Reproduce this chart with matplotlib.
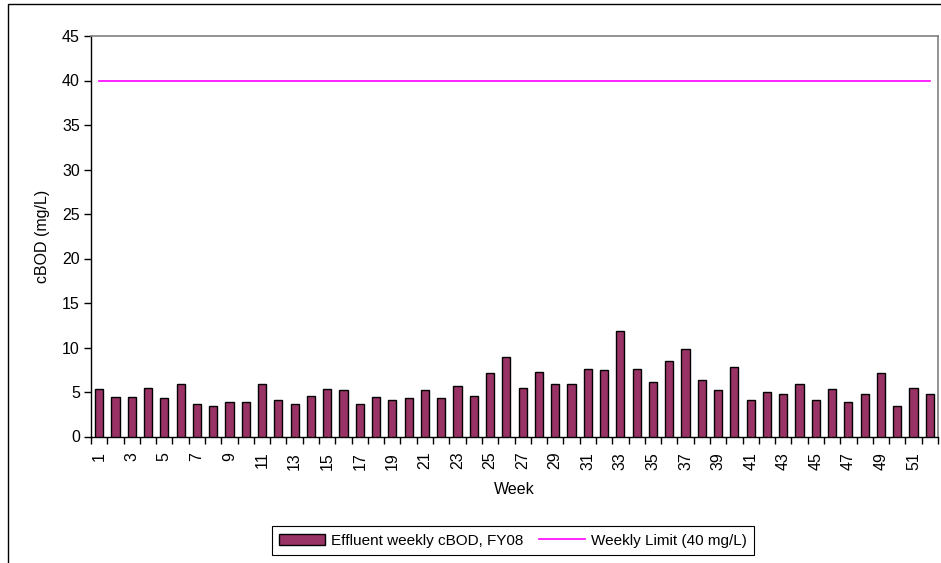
import matplotlib
matplotlib.use("Agg")
import matplotlib.pyplot as plt
from matplotlib.patches import Rectangle
import numpy as np

plt.rcParams['font.family'] = ['Liberation Sans', 'DejaVu Sans']

weeks = list(range(1, 53))
cbod = [5.3, 4.4, 4.4, 5.5, 4.3, 5.9, 3.6, 3.4, 3.9, 3.9,
        5.9, 4.1, 3.7, 4.6, 5.3, 5.2, 3.7, 4.4, 4.1, 4.3,
        5.2, 4.3, 5.7, 4.6, 7.1, 8.9, 5.5, 7.3, 5.9, 5.9,
        7.6, 7.5, 11.9, 7.6, 6.1, 8.5, 9.8, 6.3, 5.2, 7.8,
        4.1, 5.0, 4.8, 5.9, 4.1, 5.3, 3.9, 4.8, 7.1, 3.4,
        5.5, 4.8]
limit = 40
tick_labels = [str(w) if w % 2 == 1 else "" for w in weeks]
yticks = list(range(0, 50, 5))

W, H = 941, 563
fig = plt.figure(figsize=(W / 100, H / 100), dpi=100)
ax = fig.add_axes([91 / W, 1 - 436.5 / H, (938 - 91) / W, (436.5 - 36) / H])

bars = ax.bar(weeks, cbod, width=0.5, color='#993366', edgecolor='black', linewidth=1.0,
              label='Effluent weekly cBOD, FY08', zorder=3)
line, = ax.plot([weeks[0], weeks[-1]], [limit, limit], color='#FF00FF', linewidth=1.2,
                label='Weekly Limit (40 mg/L)', zorder=3)

ax.set_xlim(0.5, 52.5)
ax.set_ylim(0, 45)
ax.set_yticks(yticks)
ax.set_yticklabels([str(v) for v in yticks], fontsize=11.5)
ax.set_xticks(np.arange(0.5, 53.0, 1.0))
ax.set_xticklabels([])
ax.set_xticks(weeks, minor=True)
ax.set_xticklabels(tick_labels, minor=True, rotation=90, fontsize=11.5, ha='center', va='top')
ax.tick_params(axis='x', which='minor', length=0, pad=11)
ax.tick_params(axis='x', which='major', length=5, width=1, direction='out')
ax.tick_params(axis='y', length=5, width=1, direction='out', pad=3)

for s in ['top', 'right']:
    ax.spines[s].set_color('#808080')
    ax.spines[s].set_linewidth(1.2)
for s in ['left', 'bottom']:
    ax.spines[s].set_color('black')
    ax.spines[s].set_linewidth(1.0)

ax.set_ylabel('cBOD (mg/L)', fontsize=11.5, labelpad=9)
ax.set_xlabel('Week', fontsize=11.5, labelpad=9)

# outer chart frame
fig.patches.append(Rectangle((8 / W, -0.1), 1.2, 1 - 4 / H + 0.1, transform=fig.transFigure,
                             fill=False, edgecolor='black', linewidth=1.0))

leg = fig.legend(handles=[bars, line], labels=['Effluent weekly cBOD, FY08', 'Weekly Limit (40 mg/L)'],
                 loc='center', bbox_to_anchor=(513 / W, 1 - 540.5 / H), ncol=2,
                 fontsize=11, frameon=True, fancybox=False, edgecolor='black',
                 framealpha=1, borderpad=0.5, handlelength=3.0, handleheight=0.7,
                 columnspacing=1.0, handletextpad=0.4)
leg.get_frame().set_linewidth(0.8)

fig.savefig('out.png', dpi=100)
